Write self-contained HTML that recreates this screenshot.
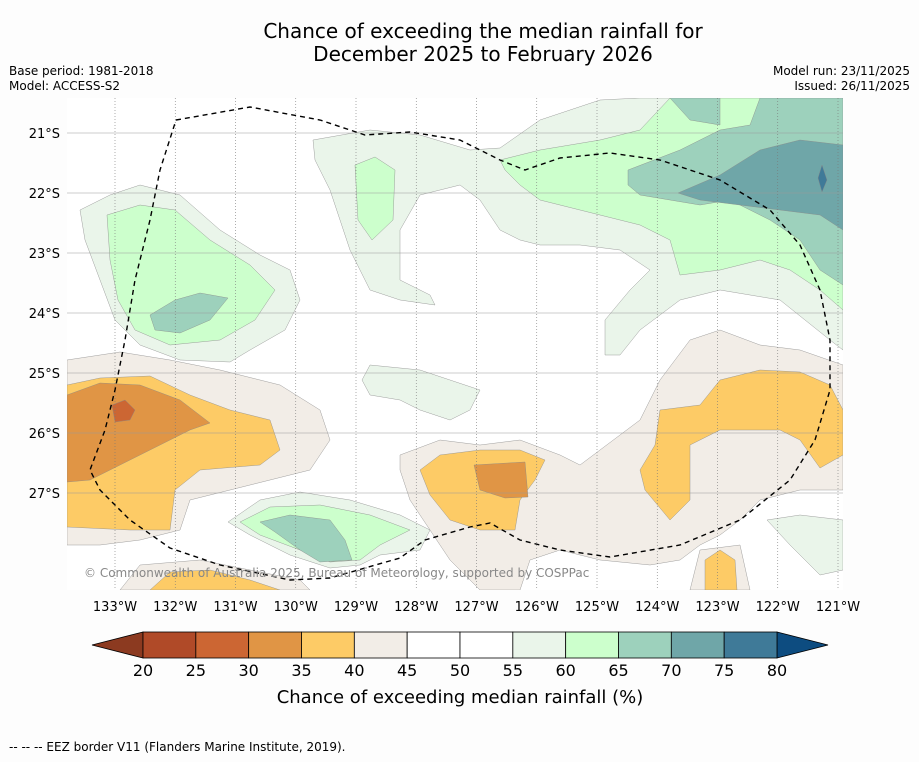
<!DOCTYPE html>
<html><head><meta charset="utf-8">
<style>
body{margin:0;background:#fdfdfd;font-family:"DejaVu Sans","Liberation Sans",sans-serif;}
svg text{font-family:"DejaVu Sans","Liberation Sans",sans-serif;}
</style></head>
<body>
<svg width="919" height="758" xmlns="http://www.w3.org/2000/svg">
<rect width="919" height="758" fill="#fdfdfd"/>
<text x="483" y="38" font-size="20" text-anchor="middle" fill="#000">Chance of exceeding the median rainfall for</text>
<text x="483" y="61" font-size="20" text-anchor="middle" fill="#000">December 2025 to February 2026</text>
<text x="9" y="75" font-size="12">Base period: 1981-2018</text>
<text x="9" y="90" font-size="12">Model: ACCESS-S2</text>
<text x="910" y="75" font-size="12" text-anchor="end">Model run: 23/11/2025</text>
<text x="910" y="90" font-size="12" text-anchor="end">Issued: 26/11/2025</text>

<g id="map">
<clipPath id="mc"><rect x="67" y="98" width="776" height="492"/></clipPath>
<g clip-path="url(#mc)">
<rect x="67" y="98" width="776" height="492" fill="#fff"/>
<g stroke="#888" stroke-width="0.4">
<polygon fill="#eaf5ea" points="313,140 370,130 420,135 470,150 500,148 540,120 600,100 640,98 843,98 843,350 830,340 780,300 720,290 680,300 640,330 620,355 605,355 605,320 630,290 650,270 620,250 580,245 540,245 520,240 500,230 480,200 460,185 420,195 400,230 400,280 430,295 435,305 400,300 370,290 350,250 330,190 315,160"/>
<polygon fill="#ccffcc" points="355,165 375,157 395,170 393,220 372,240 358,220"/>
<polygon fill="#ccffcc" points="500,160 540,150 600,140 640,130 670,98 843,98 843,310 820,290 790,270 760,260 720,270 680,275 670,240 640,225 600,215 560,205 540,200 520,185 505,170"/>
<polygon fill="#9dd1bc" points="628,170 680,150 720,130 750,125 760,98 843,98 843,285 820,270 800,240 770,220 730,200 700,205 670,200 640,195 628,185"/>
<polygon fill="#9dd1bc" points="670,98 720,98 720,125 690,120"/>
<polygon fill="#6fa6a8" points="678,193 720,175 760,150 800,140 843,145 843,230 820,215 780,210 740,205 700,200"/>
<polygon fill="#3f7a98" points="818,178 822,165 827,180 822,192"/>
<polygon fill="#eaf5ea" points="80,210 110,195 140,185 180,195 220,230 260,255 290,270 300,300 285,330 250,350 230,362 180,360 140,345 115,320 100,280 85,240"/>
<polygon fill="#ccffcc" points="107,215 140,205 175,210 210,240 250,265 275,290 255,320 220,340 170,345 135,330 118,300 110,260"/>
<polygon fill="#9dd1bc" points="150,315 175,300 200,293 228,298 210,320 180,333 155,330"/>
<polygon fill="#eaf5ea" points="370,365 420,370 450,380 480,390 470,410 450,420 420,410 400,400 370,395 362,380"/>
<polygon fill="#eaf5ea" points="767,520 800,515 843,520 843,570 820,575 790,545"/>
<polygon fill="#f2ede7" points="67,360 120,352 170,360 220,370 280,385 320,410 330,440 310,470 270,480 230,490 190,500 180,530 140,540 100,545 67,545"/>
<polygon fill="#fdcb66" points="67,385 100,378 150,376 190,395 230,410 270,420 280,450 260,465 200,470 175,490 170,530 130,530 67,527"/>
<polygon fill="#e09545" points="67,395 100,383 140,385 180,400 210,423 190,430 150,450 120,465 90,480 67,482"/>
<polygon fill="#cc6633" points="112,405 125,400 135,410 130,420 115,422"/>
<polygon fill="#f2ede7" points="400,455 440,440 480,445 520,440 560,455 580,465 600,450 640,420 660,380 690,340 720,330 760,345 800,350 843,365 843,490 800,490 760,500 740,520 720,535 700,545 680,560 650,565 600,560 560,550 530,560 520,590 480,590 450,560 430,530 410,500 400,470"/>
<polygon fill="#fdcb66" points="420,470 440,455 480,450 520,450 545,460 535,480 520,500 515,530 480,530 450,520 430,495"/>
<polygon fill="#e09545" points="474,465 525,462 528,497 505,498 480,490"/>
<polygon fill="#fdcb66" points="660,410 700,405 720,380 760,370 800,372 830,385 843,410 843,455 820,468 800,440 780,430 720,430 690,445 690,500 670,520 645,490 640,470 655,445"/>
<polygon fill="#f2ede7" points="690,590 700,550 740,545 750,590"/>
<polygon fill="#fdcb66" points="705,560 720,550 735,560 737,590 705,590"/>
<polygon fill="#f2ede7" points="120,590 140,565 200,560 300,580 310,590"/>
<polygon fill="#fdcb66" points="150,590 170,572 210,570 250,580 280,590"/>
<polygon fill="#eaf5ea" points="228,522 260,500 300,492 350,500 400,515 430,530 420,550 380,555 360,565 330,568 290,555 250,535"/>
<polygon fill="#ccffcc" points="240,522 270,507 320,505 370,515 410,530 380,545 360,560 330,562 300,550 260,535"/>
<polygon fill="#9dd1bc" points="260,522 290,515 330,520 345,540 352,560 320,562 300,550 275,532"/>
</g>
</g>
<g id="grid"></g>
<polyline fill="none" stroke="#000" stroke-width="1.4" stroke-dasharray="5,4" points="176,120 250,107 320,120 365,135 410,132 460,140 500,160 525,170 560,158 610,153 660,160 720,180 770,210 800,245 820,290 830,340 830,390 815,440 790,480 740,520 680,545 610,557 560,550 520,540 490,523 470,527 425,540 400,558 330,578 290,580 220,565 170,548 130,520 100,490 90,470 105,430 115,390 125,340 135,280 150,220 160,170 176,120"/>
<text x="84" y="577" font-size="12" fill="#888">© Commonwealth of Australia 2025, Bureau of Meteorology, supported by COSPPac</text>
</g>
<g id="axes"></g>
<g id="cbar"></g>
<text x="460" y="703" font-size="18" text-anchor="middle">Chance of exceeding median rainfall (%)</text>
<text x="9" y="751" font-size="12">--  --  -- EEZ border V11 (Flanders Marine Institute, 2019).</text>
</svg>
<script>
const lons=[133,132,131,130,129,128,127,126,125,124,123,122,121];
const lats=[21,22,23,24,25,26,27];
const levels=[20,25,30,35,40,45,50,55,60,65,70,75,80];
const levelColors=["#b04a28","#cc6633","#e09545","#fdcb66","#f2ede7","#ffffff","#ffffff","#eaf5ea","#ccffcc","#9dd1bc","#6fa6a8","#3f7a98"];
const ns="http://www.w3.org/2000/svg";
const xLon=l=>115+(133-l)*60.25;
const yLat=l=>133+(l-21)*60;
const xLev=v=>143+(v-20)*(634/60);
function mk(t,a,p){const e=document.createElementNS(ns,t);for(const k in a)e.setAttribute(k,a[k]);p.appendChild(e);return e;}
const grid=document.getElementById('grid'),axes=document.getElementById('axes'),cb=document.getElementById('cbar');
lons.forEach(l=>{
 const x=xLon(l);
 const ln=mk('line',{x1:x,x2:x,y1:98,y2:590,stroke:'#777','stroke-width':0.6,'stroke-dasharray':'1,2'},grid);
 
 
 const t=mk('text',{x:x,y:611,'font-size':13,'text-anchor':'middle'},axes);
 t.textContent=l+'°W';
 
 
});
lats.forEach(l=>{
 const y=yLat(l);
 const ln=mk('line',{x1:67,x2:843,y1:y,y2:y,stroke:'#999','stroke-width':0.6},grid);
 
 
 const t=mk('text',{x:60,y:y+5,'font-size':13,'text-anchor':'end'},axes);
 t.textContent=l+'°S';
 
 
});
const y0=632,y1=658;
const lo=mk('polygon',{points:`92,645 ${xLev(20)},${y0} ${xLev(20)},${y1}`,fill:'#8c3a20',stroke:'#000','stroke-width':0.8},cb);


const hi=mk('polygon',{points:`828,645 ${xLev(80)},${y0} ${xLev(80)},${y1}`,fill:'#0d4c80',stroke:'#000','stroke-width':0.8},cb);


levelColors.forEach((c,i)=>{
 const r=mk('rect',{x:xLev(levels[i]),y:y0,width:xLev(levels[i+1])-xLev(levels[i]),height:y1-y0,fill:c,stroke:'#000','stroke-width':0.8},cb);
 
 
});
levels.forEach(v=>{
 const t=mk('text',{x:xLev(v),y:676,'font-size':16,'text-anchor':'middle'},cb);
 t.textContent=v;
 
 
});
</script>
</body></html>
